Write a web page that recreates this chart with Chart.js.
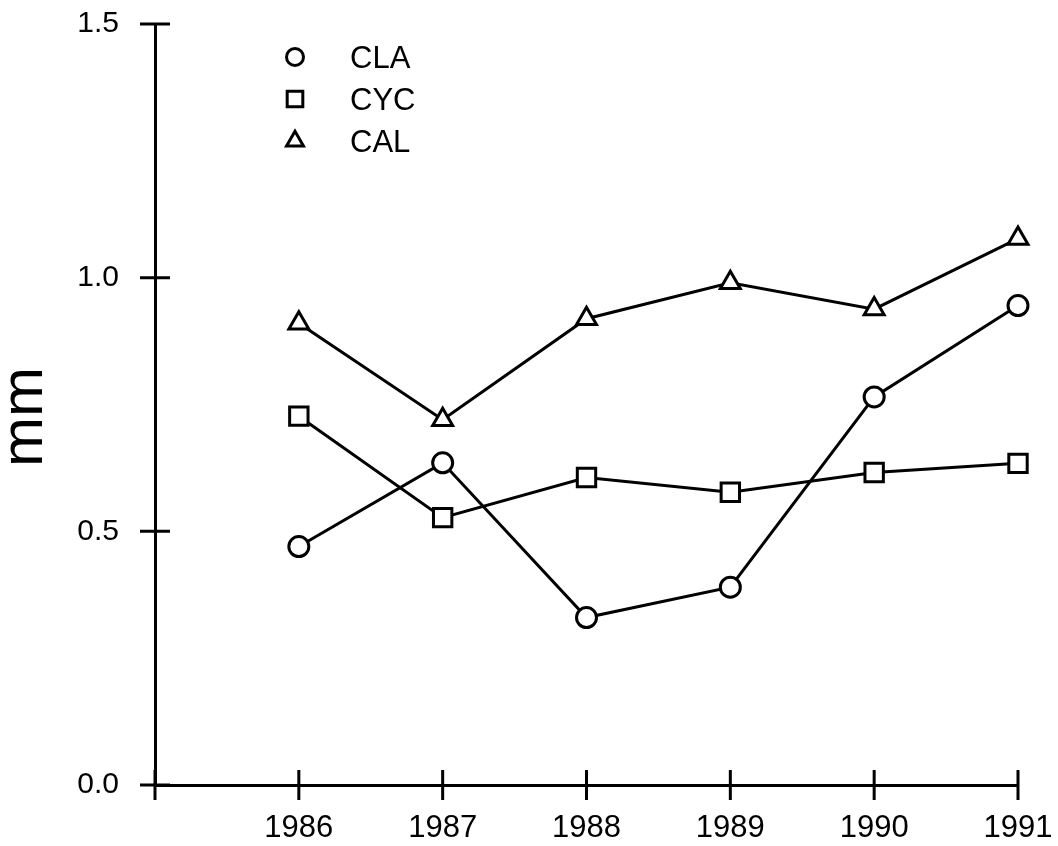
<!DOCTYPE html>
<html>
<head>
<meta charset="utf-8">
<script src="https://cdn.jsdelivr.net/npm/chart.js@4/dist/chart.umd.min.js"></script>
<style>
    html, body { margin: 0; padding: 0; background: #fff; }
    #wrap { width: 1058px; height: 846px; }
</style>
</head>
<body>
<div id="wrap"><canvas id="mmChart" width="1058" height="846"></canvas></div>
<script>
// values
const years = [1986, 1987, 1988, 1989, 1990, 1991];
const claValues = [0.47, 0.635, 0.33, 0.39, 0.765, 0.945];
const cycValues = [0.727, 0.527, 0.606, 0.577, 0.616, 0.634];
const calValues = [0.91, 0.72, 0.919, 0.99, 0.938, 1.077];
const yTicks = [0, 0.5, 1.0, 1.5];
const yTitle = 'mm';

const FONT = "'Liberation Sans', Arial, sans-serif";

function toPoints(vals) {
    return years.map((y, i) => ({ x: y, y: vals[i] }));
}

// tick marks that cross the axis line, like the original plot
const crossTicks = {
    id: 'crossTicks',
    afterDraw(chart) {
        const ctx = chart.ctx;
        const xs = chart.scales.x;
        const ys = chart.scales.y;
        const half = 15;
        ctx.save();
        ctx.strokeStyle = '#000';
        ctx.lineWidth = 3;
        ctx.beginPath();
        xs.ticks.forEach(t => {
            const px = xs.getPixelForValue(t.value);
            ctx.moveTo(px, xs.top - half);
            ctx.lineTo(px, xs.top + half);
        });
        yTicks.forEach(v => {
            const py = ys.getPixelForValue(v);
            ctx.moveTo(ys.right - half, py);
            ctx.lineTo(ys.right + half, py);
        });
        ctx.stroke();

        // y axis title, placed a little below the middle as in the original
        ctx.translate(30, 417);
        ctx.rotate(-Math.PI / 2);
        ctx.font = '60px ' + FONT;
        ctx.fillStyle = '#000';
        ctx.textAlign = 'center';
        ctx.textBaseline = 'middle';
        ctx.fillText(yTitle, 0, -5);
        ctx.restore();
    }
};

// legend as a column inside the plot, top left
const insideLegend = {
    id: 'insideLegend',
    afterDraw(chart) {
        const ctx = chart.ctx;
        const markX = 295, textX = 350, firstY = 57, rowGap = 42;
        ctx.save();
        ctx.font = '31px ' + FONT;
        ctx.textBaseline = 'middle';
        chart.data.datasets.forEach((ds, i) => {
            const y = firstY + i * rowGap;
            ctx.fillStyle = '#fff';
            ctx.strokeStyle = '#000';
            ctx.lineWidth = 3;
            Chart.helpers.drawPoint(ctx, {
                pointStyle: ds.pointStyle,
                radius: ds.pointRadius * 0.85,
                borderWidth: 3
            }, markX, y);
            ctx.fillStyle = '#000';
            ctx.fillText(ds.label, textX, y + 2);
        });
        ctx.restore();
    }
};

function makeSet(label, vals, style, radius) {
    return {
        label: label,
        data: toPoints(vals),
        borderColor: '#000',
        borderWidth: 3,
        backgroundColor: '#fff',
        pointStyle: style,
        pointRadius: radius,
        pointBorderWidth: 3,
        pointBorderColor: '#000',
        pointBackgroundColor: '#fff',
        tension: 0,
        clip: false
    };
}

const ctx = document.getElementById('mmChart').getContext('2d');
new Chart(ctx, {
    type: 'line',
    data: {
        datasets: [
            makeSet('CLA', claValues, 'circle', 10),
            makeSet('CYC', cycValues, 'rect', 13),
            makeSet('CAL', calValues, 'triangle', 11.5)
        ]
    },
    options: {
        responsive: false,
        animation: false,
        layout: { padding: { left: 0, right: 40, top: 24, bottom: 0 } },
        plugins: {
            legend: { display: false },
            tooltip: { enabled: false }
        },
        scales: {
            x: {
                type: 'linear',
                min: 1985,
                max: 1991,
                grid: { display: false, drawTicks: false },
                border: { display: true, color: '#000', width: 3 },
                ticks: {
                    stepSize: 1,
                    padding: 25,
                    color: '#000',
                    font: { family: FONT, size: 31 },
                    maxRotation: 0,
                    callback: v => (v === 1985 ? '' : String(v))
                },
                afterFit: s => {
                    s.height = 61;
                    s.paddingLeft = 0;
                    s.paddingRight = 0;
                }
            },
            y: {
                min: 0,
                max: 1.5,
                grid: { display: false, drawTicks: false },
                border: { display: true, color: '#000', width: 3 },
                ticks: {
                    stepSize: 0.5,
                    padding: 36,
                    color: '#000',
                    font: { family: FONT, size: 30 },
                    callback: v => v.toFixed(1)
                },
                afterFit: s => {
                    s.width = 155;
                    s.paddingTop = 0;
                    s.paddingBottom = 0;
                }
            }
        }
    },
    plugins: [crossTicks, insideLegend]
});
</script>
</body>
</html>
